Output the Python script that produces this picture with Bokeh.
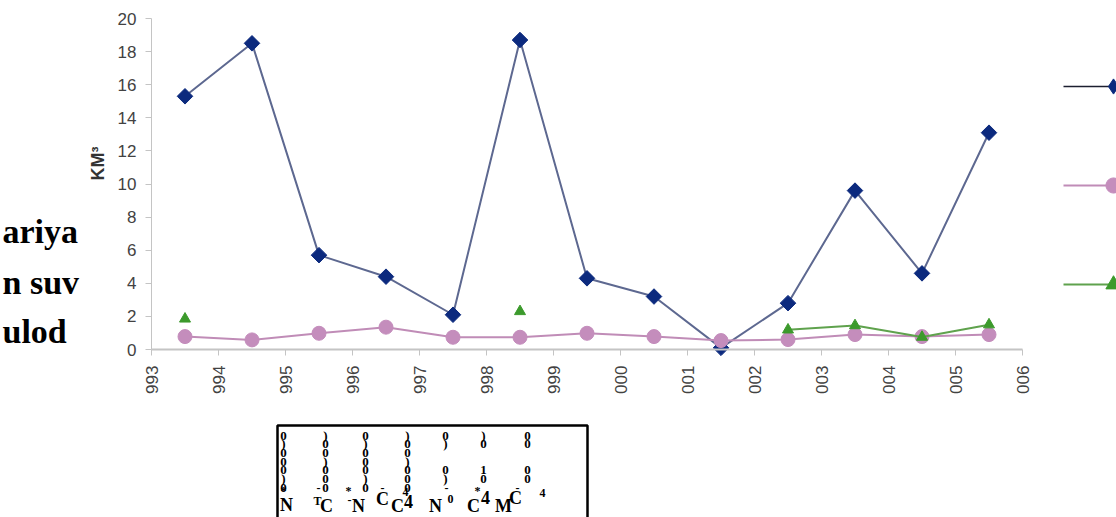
from math import pi, nan
from bokeh.plotting import figure
from bokeh.models import Range1d, FixedTicker, Label, Legend, LegendItem, LinearAxis
from bokeh.embed import file_html
from bokeh.resources import INLINE
from bokeh.core.properties import value

# ---------------- data ----------------
years = [1993.5, 1994.5, 1995.5, 1996.5, 1997.5, 1998.5, 1999.5,
         2000.5, 2001.5, 2002.5, 2003.5, 2004.5, 2005.5]
tick_years = list(range(1993, 2007))
tick_labels = ["993", "994", "995", "996", "997", "998", "999",
               "000", "001", "002", "003", "004", "005", "006"]
y_ticks = list(range(0, 21, 2))

series_blue = [15.3, 18.5, 5.7, 4.4, 2.1, 18.7, 4.3, 3.2, 0.1, 2.8, 9.6, 4.6, 13.1]
series_pink = [0.78, 0.58, 0.98, 1.35, 0.74, 0.74, 0.98, 0.78, 0.54, 0.6, 0.9, 0.78, 0.9]
series_green = [1.85, nan, nan, nan, nan, 2.3, nan, nan, nan, 1.19, 1.45, 0.75, 1.5]

y_axis_text = "KM³"
side_text = ["ariya", "n suv", "ulod"]

table_columns = ["0\n)\n0\n0\n0\n)\n0", ")\n0\n0\n)\n0\n0\n0", "0\n)\n0\n0\n0\n)\n0",
                 ")\n0\n0\n)\n0\n0\n0", "0\n)\n\n\n0\n)", ")\n0\n\n\n1\n0", "0\n0\n\n\n0\n0"]
table_small = ["*", "-", "*", "-", "4", "-", "*", "-", "4", "T", "-", "0"]
table_large = ["N", "C", "N", "C", "C", "4", "N", "C", "4", "M", "C"]

# ---------------- layout (pixel geometry of the page) ----------------
W, H = 1116, 517
X_LEFT_PX, X_RIGHT_PX = 151, 1022      # where 1993 and 2006 sit
Y_ZERO_PX, Y_TOP_PX = 349, 18          # where 0 and 20 sit
ppx = (X_RIGHT_PX - X_LEFT_PX) / (2006 - 1993)
ppy = (Y_ZERO_PX - Y_TOP_PX) / 20.0
x_range = Range1d(1993 - X_LEFT_PX / ppx, 2006 + (W - X_RIGHT_PX) / ppx)
y_range = Range1d(0 - (H - Y_ZERO_PX) / ppy, 20 + Y_TOP_PX / ppy)

p = figure(width=W, height=H, x_range=x_range, y_range=y_range, title=None,
           x_axis_type=None, y_axis_type=None, min_border=0,
           output_backend="svg", toolbar_location=None)
p.outline_line_color = None
p.background_fill_color = "white"
p.border_fill_color = "white"
p.extra_x_ranges = {"px": Range1d(0, W)}
p.extra_y_ranges = {"px": Range1d(H, 0)}

axis_col = "#c4c4c4"
lab_col = "#424242"
xaxis = LinearAxis(fixed_location=0, bounds=(1993, 2006), ticker=FixedTicker(ticks=tick_years),
                   major_label_overrides={t: l for t, l in zip(tick_years, tick_labels)},
                   major_label_orientation=pi / 2)
yaxis = LinearAxis(fixed_location=1993, bounds=(0, 20), ticker=FixedTicker(ticks=y_ticks))
for ax in (xaxis, yaxis):
    ax.axis_line_color = axis_col
    ax.major_tick_line_color = axis_col
    ax.minor_tick_line_color = None
    ax.major_tick_in = 0
    ax.major_tick_out = 6
    ax.major_label_text_font = "Liberation Sans"
    ax.major_label_text_font_size = "17px"
    ax.major_label_text_color = lab_col
    ax.major_label_standoff = 9
xaxis.axis_line_width = 2
xaxis.major_label_standoff = 10
p.add_layout(xaxis, "below")
p.add_layout(yaxis, "left")

blue_line_col, blue_mark_col = "#5d6890", "#0c2a7e"
pink_line_col, pink_mark_col = "#c08cb7", "#c48dbc"
green_line_col, green_mark_col = "#5fa24d", "#3c9a2c"

bl = p.line(years, series_blue, line_color=blue_line_col, line_width=2)
bs = p.scatter(years, series_blue, marker="square", angle=pi / 4, size=11,
               fill_color=blue_mark_col, line_color=blue_mark_col)
pl = p.line(years, series_pink, line_color=pink_line_col, line_width=2)
ps = p.scatter(years, series_pink, marker="circle", size=14,
               fill_color=pink_mark_col, line_color=pink_mark_col)
gl = p.line(years, series_green, line_color=green_line_col, line_width=2)
gs = p.scatter(years, series_green, marker="triangle", size=11,
               fill_color=green_mark_col, line_color=green_mark_col)

# legend-key proxies (not drawn in the plot area: NaN position)
key_line = p.line([nan], [nan], line_color="#1c1f30", line_width=1.5)
key_diamond = p.scatter([nan], [nan], marker="diamond", size=16,
                        fill_color=blue_mark_col, line_color=blue_mark_col)

legend = Legend(items=[LegendItem(label=" ", renderers=[key_line, key_diamond]),
                       LegendItem(label=" ", renderers=[pl, ps]),
                       LegendItem(label=" ", renderers=[gl, gs])],
                location=(1063, H - 303), orientation="vertical",
                glyph_width=100, glyph_height=38, label_width=0, label_height=38,
                label_standoff=0, spacing=61, padding=0, margin=0,
                border_line_color=None, background_fill_alpha=0)
p.add_layout(legend)

p.add_layout(Label(x=107, y=H - 163, x_units="screen", y_units="screen", text=y_axis_text,
                   angle=pi / 2, text_align="center", text_baseline="bottom",
                   text_font="Liberation Sans", text_font_style="bold",
                   text_font_size="18px", text_color="#333333"))

side_baselines = [231, 282, 331]
for s, b in zip(side_text, side_baselines):
    p.add_layout(Label(x=2, y=H - b, x_units="screen", y_units="screen", text=s,
                       text_align="left", text_baseline="alphabetic",
                       text_font="Liberation Serif", text_font_style="bold",
                       text_font_size="34px", text_color="black"))

# ---------------- scanned table fragment (pixel coordinates) ----------------
t_kw = dict(x_range_name="px", y_range_name="px")
p.quad(left=[277], right=[587], top=[425], bottom=[540], fill_color=None,
       line_color="black", line_width=2.5, **t_kw)

col_x = [283, 325, 365, 407, 445, 483, 527]
p.text(x=col_x, y=[427] * len(col_x), text=table_columns, text_align="center",
       text_baseline="top", text_line_height=0.58,
       text_font=value("Liberation Serif"), text_font_style="bold",
       text_font_size="13px", text_color="black", **t_kw)

small_x = [283, 318, 348, 382, 405, 446, 477, 517, 542, 317, 349, 450]
small_y = [490, 487, 490, 487, 491, 487, 490, 487, 492, 500, 499, 498]
p.text(x=small_x, y=small_y, text=table_small, text_align="center", text_baseline="middle",
       text_font=value("Liberation Serif"), text_font_style="bold",
       text_font_size="12px", text_color="black", **t_kw)

large_x = [286, 326, 358, 382, 397, 408, 435, 473, 485, 503, 515]
large_y = [504, 505, 505, 498, 505, 501, 505, 505, 497, 505, 497]
p.text(x=large_x, y=large_y, text=table_large, text_align="center", text_baseline="middle",
       text_font=value("Liberation Serif"), text_font_style="bold",
       text_font_size="18px", text_color="black", **t_kw)

open("out.html", "w").write(file_html(p, INLINE))
